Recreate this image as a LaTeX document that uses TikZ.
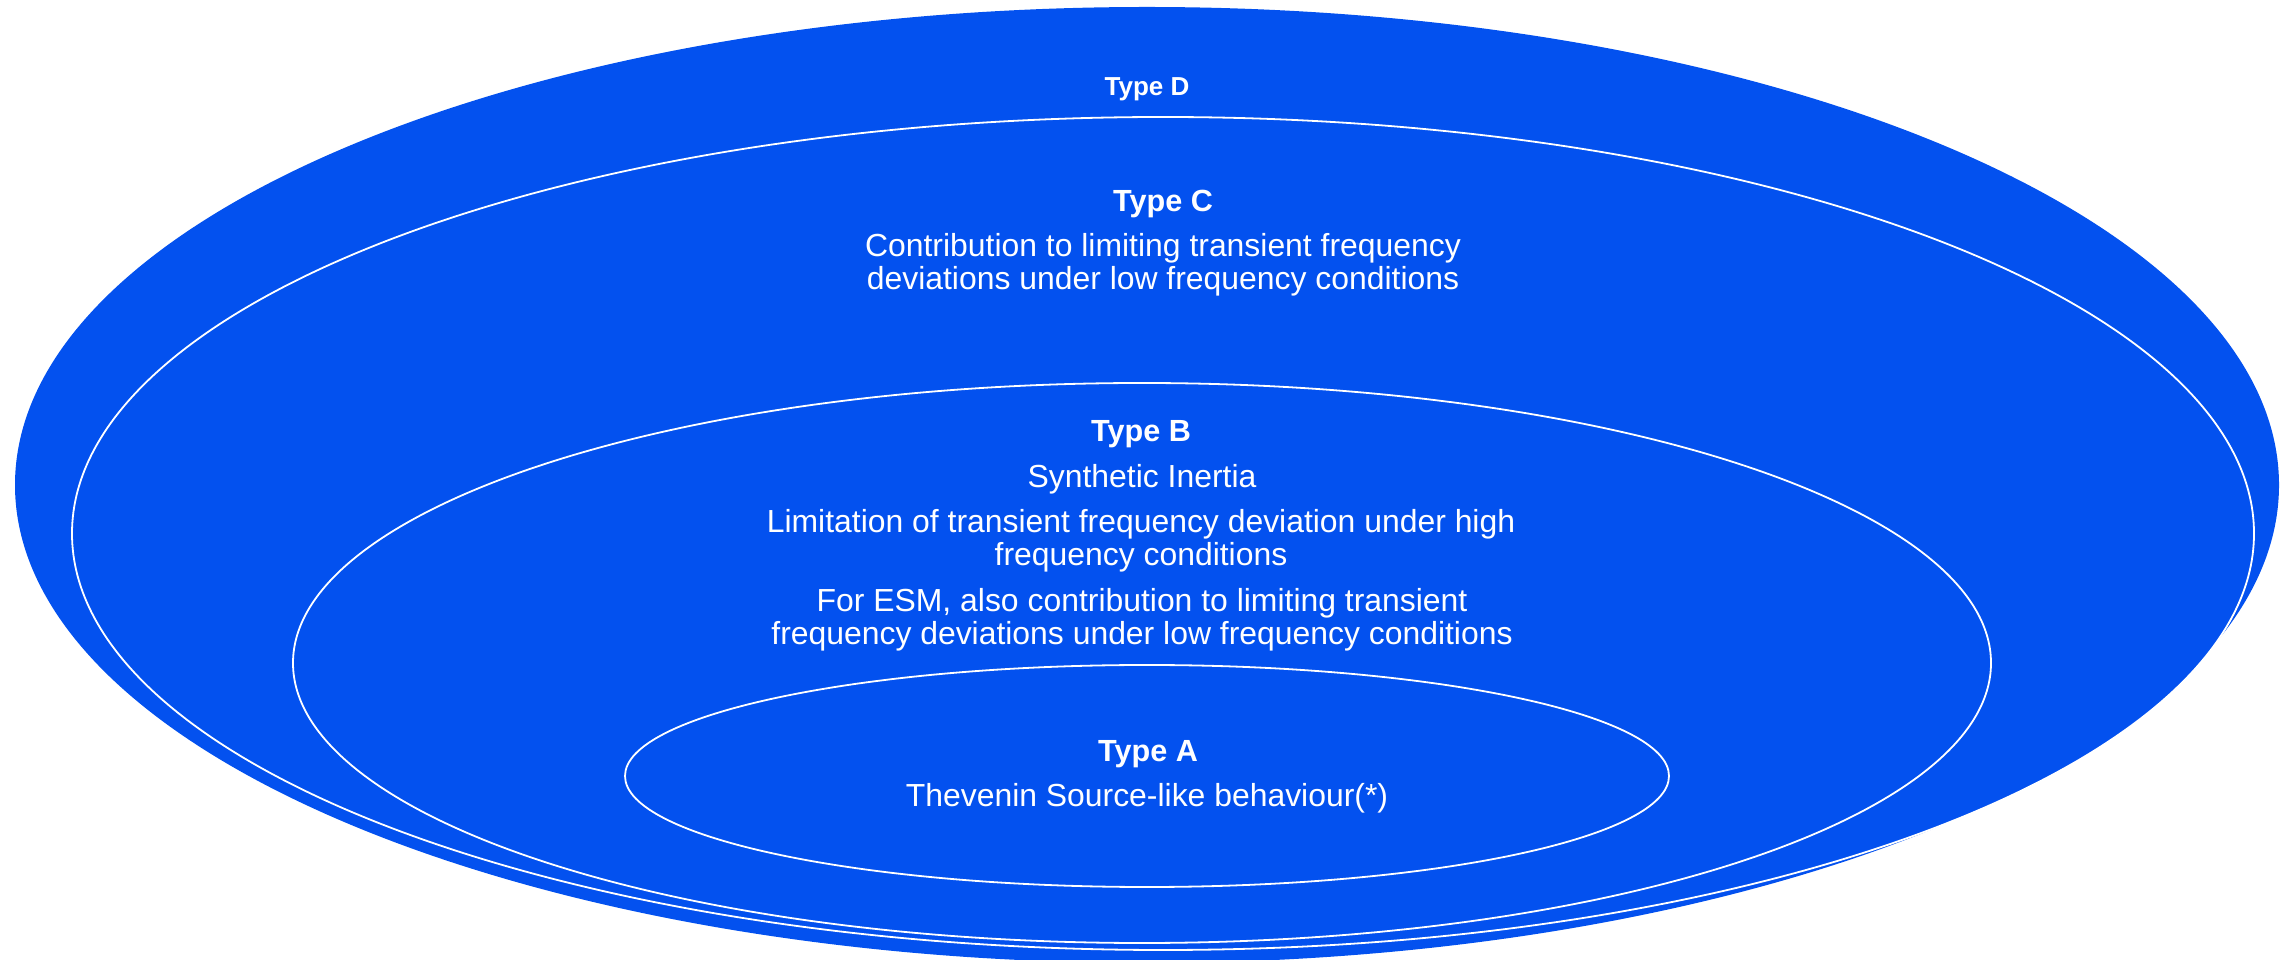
\documentclass[tikz,border=0pt]{standalone}
\usepackage{fontspec}
\setmainfont{Liberation Sans}
\usepackage{tikz}
\usetikzlibrary{shapes}

\definecolor{ringblue}{HTML}{0351EF}
\tikzset{
  ring/.style={ellipse, draw=white, fill=ringblue, line width=1.8bp, inner sep=0pt},
  head/.style={text=white, anchor=base, font=\bfseries\fontsize{30.6bp}{33bp}\selectfont},
  body/.style={text=white, anchor=base, align=center, font=\fontsize{31.9bp}{33bp}\selectfont},
}

\begin{document}
\begin{tikzpicture}[line join=bevel]
  \useasboundingbox (0bp,0bp) rectangle (2295bp,960bp);
%%
  % Node: ringD
  \node [ring, draw=none, minimum width=2264bp, minimum height=956bp] (ringD) at (1147bp,475bp) {};
  \node [head, font=\bfseries\fontsize{26bp}{30bp}\selectfont] (typeD) at (1147bp,864bp) {Type D};
  % Node: ringC
  \node [ring, minimum width=2182bp, minimum height=833bp] (ringC) at (1163bp,426.5bp) {};
  \node [head] (typeC) at (1163bp,748bp) {Type C};
  \node [body] (textC) at (1163bp,670bp) {Contribution to limiting transient frequency\\deviations under low frequency conditions};
  % Node: ringB
  \node [ring, minimum width=1698bp, minimum height=560bp] (ringB) at (1142bp,297bp) {};
  \node [head] (typeB) at (1141bp,518bp) {Type B};
  \node [body] (inertia) at (1142bp,472bp) {Synthetic Inertia};
  \node [body] (highf) at (1141bp,394bp) {Limitation of transient frequency deviation under high\\frequency conditions};
  \node [body] (esm) at (1142bp,315bp) {For ESM, also contribution to limiting transient\\frequency deviations under low frequency conditions};
  % Node: ringA
  \node [ring, minimum width=1044bp, minimum height=222bp] (ringA) at (1147bp,184bp) {};
  \node [head] (typeA) at (1148bp,198bp) {Type A};
  \node [body] (thevenin) at (1147bp,153bp) {Thevenin Source-like behaviour(*)};
%
\end{tikzpicture}
\end{document}
